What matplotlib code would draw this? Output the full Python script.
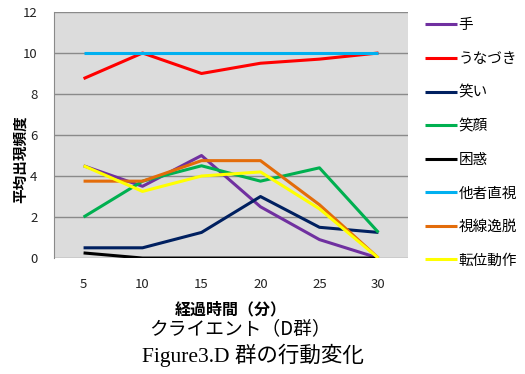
import numpy as np
import matplotlib
matplotlib.use('Agg')
from matplotlib import pyplot as plt

plt.rcParams['font.family'] = ['Noto Sans CJK JP', 'DejaVu Sans']

# data
minutes = [5, 10, 15, 20, 25, 30]
te = [4.5, 3.5, 5.0, 2.5, 0.9, 0.0]
unazuki = [8.75, 10.0, 9.0, 9.5, 9.7, 10.0]
warai = [0.5, 0.5, 1.25, 3.0, 1.5, 1.25]
egao = [2.0, 3.75, 4.5, 3.75, 4.4, 1.25]
konwaku = [0.25, 0.0, 0.0, 0.0, 0.0, 0.0]
tasha = [10.0, 10.0, 10.0, 10.0, 10.0, 10.0]
shisen = [3.75, 3.75, 4.75, 4.75, 2.6, 0.0]
teni = [4.5, 3.25, 4.0, 4.2, 2.4, 0.0]

series = [('手', te, '#7030a0'),
          ('うなづき', unazuki, '#ff0000'),
          ('笑い', warai, '#002060'),
          ('笑顔', egao, '#00b050'),
          ('困惑', konwaku, '#000000'),
          ('他者直視', tasha, '#00b0f0'),
          ('視線逸脱', shisen, '#e36c0a'),
          ('転位動作', teni, '#ffff00')]

fig = plt.figure(figsize=(5.25, 3.74), dpi=100)
ax = fig.add_axes([0.103, 0.31, 0.674, 0.658])
ax.set_facecolor('#dcdcdc')

pos = np.arange(len(minutes))
for name, vals, col in series:
    ax.plot(pos, vals, color=col, lw=2.2, label=name, solid_capstyle='butt')

ax.set_xlim(-0.5, 5.5)
ax.set_ylim(0, 12)
ax.set_yticks(range(0, 13, 2))
ax.set_xticks(pos)
ax.set_xticklabels([str(m) for m in minutes])
ax.tick_params(length=0, labelsize=9.5, colors='#222222')
ax.tick_params(axis='y', pad=12)
ax.tick_params(axis='x', pad=14)
ax.yaxis.grid(True, color='#8a8a8a', lw=1)
ax.set_axisbelow(True)
for s in ['top', 'right', 'bottom']:
    ax.spines[s].set_visible(False)
ax.spines['left'].set_color('#8a8a8a')

ax.set_ylabel('平均出現頻度', fontsize=10.5, fontweight='bold')
ax.yaxis.set_label_coords(-0.074, 0.40)
ax.set_xlabel('経過時間（分）', fontsize=11.5, fontweight='bold', labelpad=8)

ax.legend(loc='upper left', bbox_to_anchor=(1.02, 1.015), frameon=False,
          fontsize=10.5, handlelength=2.2, handletextpad=0.1, labelspacing=1.34,
          borderaxespad=0.3)

fig.text(0.458, 0.12, 'クライエント（D群）', ha='center', va='center', fontsize=13.5)
fig.text(0.482, 0.05, 'Figure3.D 群の行動変化', ha='center', va='center',
         fontsize=15.5, family=['Liberation Serif', 'Noto Sans CJK JP'])

plt.savefig('out.png', dpi=100)
